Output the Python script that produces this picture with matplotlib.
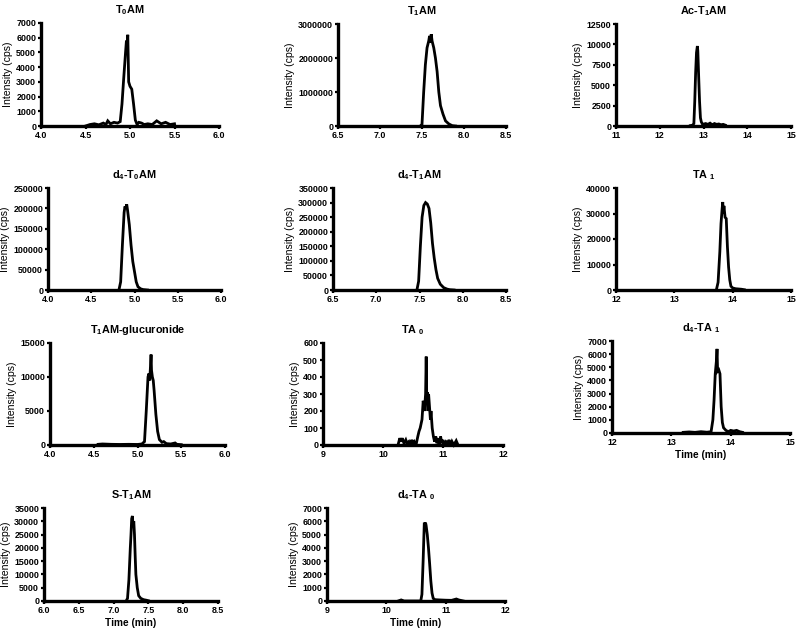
import matplotlib
matplotlib.use("Agg")
import matplotlib.pyplot as plt

plt.rcParams['font.family'] = ['Liberation Sans', 'DejaVu Sans']
plt.rcParams['mathtext.fontset'] = 'custom'
plt.rcParams['mathtext.rm'] = 'Liberation Sans:bold'
plt.rcParams['mathtext.it'] = 'Liberation Sans:bold'
plt.rcParams['mathtext.bf'] = 'Liberation Sans:bold'

# ---------------- data ----------------
titles = [r"T$_0$AM", r"T$_1$AM", r"Ac-T$_1$AM",
          r"d$_4$-T$_0$AM", r"d$_4$-T$_1$AM", r"TA $_1$",
          r"T$_1$AM-glucuronide", r"TA $_0$", r"d$_4$-TA $_1$",
          r"S-T$_1$AM", r"d$_4$-TA $_0$"]

t_T0AM = [4.50, 4.55, 4.60, 4.65, 4.70, 4.73, 4.75, 4.78, 4.82, 4.86, 4.89, 4.91, 4.93, 4.95, 4.96, 4.965,
          4.975, 4.985, 5.00, 5.02, 5.04, 5.06, 5.08, 5.10, 5.13, 5.16, 5.20, 5.25, 5.30, 5.35, 5.40,
          5.45, 5.50]
i_T0AM = [0, 100, 150, 80, 200, 100, 350, 150, 250, 200, 300, 1500, 3300, 5000, 5800, 5200,
          6200, 3000, 2700, 2500, 1500, 400, 100, 250, 200, 100, 150, 100, 350, 150, 250,
          100, 150]

t_T1AM = [7.48, 7.50, 7.52, 7.54, 7.56, 7.58, 7.59, 7.60, 7.61, 7.62, 7.64, 7.66, 7.68, 7.70,
          7.72, 7.75, 7.78, 7.82, 7.86, 7.90]
i_T1AM = [0, 50000, 1000000, 1800000, 2300000, 2500000, 2650000, 2450000, 2700000, 2500000,
          2300000, 2000000, 1600000, 1000000, 600000, 350000, 150000, 60000, 10000, 0]

t_AcT1AM = [12.70, 12.75, 12.78, 12.80, 12.82, 12.84, 12.86, 12.87, 12.89, 12.91, 12.93, 12.95,
            12.98, 13.05, 13.10, 13.15, 13.20, 13.25, 13.30, 13.35, 13.40, 13.45, 13.50]
i_AcT1AM = [50, 100, 300, 3000, 6500, 9000, 9800, 9200, 6000, 3000, 1000, 500,
            200, 300, 200, 350, 150, 300, 200, 250, 150, 200, 100]

t_d4T0AM = [4.82, 4.84, 4.86, 4.88, 4.89, 4.90, 4.91, 4.92, 4.94, 4.96, 4.98, 5.00, 5.02, 5.04,
            5.07, 5.10, 5.15]
i_d4T0AM = [0, 20000, 110000, 190000, 205000, 200000, 210000, 195000, 160000, 110000, 70000,
            45000, 20000, 8000, 3000, 1000, 0]

t_d4T1AM = [7.47, 7.49, 7.51, 7.53, 7.55, 7.57, 7.59, 7.61, 7.63, 7.65, 7.67, 7.69, 7.71, 7.74,
            7.78, 7.82, 7.85, 7.90]
i_d4T1AM = [0, 30000, 150000, 250000, 290000, 300000, 295000, 280000, 230000, 160000, 110000,
            70000, 40000, 20000, 8000, 3000, 1000, 0]

t_TA1 = [13.72, 13.75, 13.78, 13.80, 13.82, 13.83, 13.84, 13.85, 13.87, 13.89, 13.91, 13.93,
         13.95, 13.97, 14.00, 14.05, 14.10, 14.15, 14.20]
i_TA1 = [0, 3000, 15000, 26000, 32000, 34500, 30000, 33000, 28500, 28000, 17000, 9000,
         4000, 1500, 800, 500, 400, 300, 100]

t_T1AMg = [4.55, 4.60, 4.70, 4.80, 4.90, 5.00, 5.05, 5.08, 5.10, 5.12, 5.13, 5.14, 5.15, 5.155,
           5.16, 5.17, 5.18, 5.19, 5.21, 5.23, 5.25, 5.28, 5.30, 5.33, 5.38, 5.43, 5.45, 5.50]
i_T1AMg = [100, 150, 100, 80, 100, 80, 150, 500, 5000, 10000, 10500, 9500, 12000, 13300,
           11000, 10000, 9500, 8000, 4500, 2000, 800, 400, 500, 200, 150, 300, 100, 50]

t_TA0 = [10.25, 10.28, 10.30, 10.32, 10.35, 10.38, 10.40, 10.43, 10.45, 10.48, 10.50, 10.52,
         10.55, 10.58, 10.60, 10.62, 10.65, 10.67, 10.69, 10.71, 10.72, 10.73, 10.74, 10.75,
         10.76, 10.77, 10.78, 10.79, 10.80, 10.82, 10.84, 10.86, 10.88, 10.90, 10.92, 10.94,
         10.96, 10.98, 11.00, 11.02, 11.05, 11.08, 11.10, 11.13, 11.15, 11.18, 11.22, 11.25]
i_TA0 = [0, 40, 20, 40, 10, 30, 10, 20, 0, 30, 10, 20,
         0, 50, 80, 100, 150, 260, 200, 300, 520, 250, 310, 200,
         300, 250, 200, 150, 200, 100, 50, 20, 50, 10, 40, 0,
         50, 10, 30, 0, 20, 10, 30, 0, 20, 0, 25, 0]

t_d4TA1 = [13.20, 13.30, 13.40, 13.50, 13.60, 13.67, 13.70, 13.72, 13.74, 13.76, 13.77, 13.78,
           13.80, 13.82, 13.84, 13.86, 13.88, 13.92, 13.96, 14.00, 14.05, 14.10, 14.15, 14.20]
i_d4TA1 = [50, 80, 50, 100, 60, 100, 1000, 2500, 4500, 5500, 6400, 4700,
           4800, 4500, 2000, 800, 400, 200, 100, 200, 150, 200, 100, 50]

t_ST1AM = [7.18, 7.20, 7.22, 7.24, 7.25, 7.26, 7.27, 7.28, 7.29, 7.30, 7.31, 7.32, 7.34, 7.36,
           7.39, 7.43, 7.47, 7.50]
i_ST1AM = [0, 1000, 8000, 20000, 25000, 31000, 32000, 28000, 30000, 25000, 17000, 10000, 5000,
           2000, 1000, 500, 300, 100]

t_d4TA0 = [10.20, 10.25, 10.30, 10.58, 10.60, 10.62, 10.64, 10.65, 10.66, 10.67, 10.69, 10.71,
           10.73, 10.75, 10.77, 10.79, 10.82, 10.90, 11.00, 11.10, 11.18, 11.22, 11.30]
i_d4TA0 = [0, 80, 0, 0, 500, 3000, 5900, 5800, 5900, 5700, 5000, 4000,
           2800, 1500, 600, 200, 100, 80, 60, 50, 150, 80, 0]

times = [t_T0AM, t_T1AM, t_AcT1AM, t_d4T0AM, t_d4T1AM, t_TA1, t_T1AMg, t_TA0, t_d4TA1, t_ST1AM, t_d4TA0]
intens = [i_T0AM, i_T1AM, i_AcT1AM, i_d4T0AM, i_d4T1AM, i_TA1, i_T1AMg, i_TA0, i_d4TA1, i_ST1AM, i_d4TA0]

xlims = [(4, 6), (6.5, 8.5), (11, 15), (4, 6), (6.5, 8.5), (12, 15), (4, 6), (9, 12), (12, 15), (6, 8.5), (9, 12)]
xticks = [[4.0, 4.5, 5.0, 5.5, 6.0], [6.5, 7.0, 7.5, 8.0, 8.5], [11, 12, 13, 14, 15],
          [4.0, 4.5, 5.0, 5.5, 6.0], [6.5, 7.0, 7.5, 8.0, 8.5], [12, 13, 14, 15],
          [4.0, 4.5, 5.0, 5.5, 6.0], [9, 10, 11, 12], [12, 13, 14, 15],
          [6.0, 6.5, 7.0, 7.5, 8.0, 8.5], [9, 10, 11, 12]]
xfmt = ["{:.1f}", "{:.1f}", "{:.0f}", "{:.1f}", "{:.1f}", "{:.0f}", "{:.1f}", "{:.0f}", "{:.0f}", "{:.1f}", "{:.0f}"]
ymax = [7000, 3000000, 12500, 250000, 350000, 40000, 15000, 600, 7000, 35000, 7000]
ystep = [1000, 1000000, 2500, 50000, 50000, 10000, 5000, 100, 1000, 5000, 1000]
show_xlabel = [False, False, False, False, False, False, False, False, True, True, True]

# axes boxes in pixels: left, top, right, bottom
boxes = [(41, 23, 219, 126), (338, 24, 506, 126), (616, 24, 791, 126),
         (48, 188, 221, 290), (333, 188, 506, 290), (616, 188, 791, 290),
         (50, 343, 225, 445), (323, 343, 503, 445), (612, 341, 790, 433),
         (44, 508, 218, 601), (327, 508, 505, 601)]

W, H = 800, 628
fig = plt.figure(figsize=(W / 100, H / 100), dpi=100)

for k in range(11):
    l, t, r, b = boxes[k]
    ax = fig.add_axes([l / W, 1 - b / H, (r - l) / W, (b - t) / H])
    ax.plot(times[k], intens[k], color='black', lw=2.0, solid_joinstyle='miter', clip_on=False)
    ax.set_xlim(*xlims[k])
    ax.set_ylim(0, ymax[k])
    ax.set_xticks(xticks[k])
    ax.set_xticklabels([xfmt[k].format(v) for v in xticks[k]])
    yt = list(range(0, ymax[k] + 1, ystep[k]))
    ax.set_yticks(yt)
    ax.set_yticklabels([str(v) for v in yt])
    for s in ('top', 'right'):
        ax.spines[s].set_visible(False)
    for s in ('left', 'bottom'):
        ax.spines[s].set_linewidth(2.4)
    ax.tick_params(axis='both', direction='out', length=2.5, width=1.6, pad=1)
    for lab in ax.get_xticklabels() + ax.get_yticklabels():
        lab.set_fontsize(6.4)
        lab.set_fontweight('bold')
    ax.set_ylabel("Intensity (cps)", fontsize=7.6, labelpad=2)
    ax.set_title(titles[k], fontsize=7.8, fontweight='bold', pad=7)
    if show_xlabel[k]:
        ax.set_xlabel("Time (min)", fontsize=7.3, fontweight='bold', labelpad=2)

fig.savefig("out.png", dpi=100)
